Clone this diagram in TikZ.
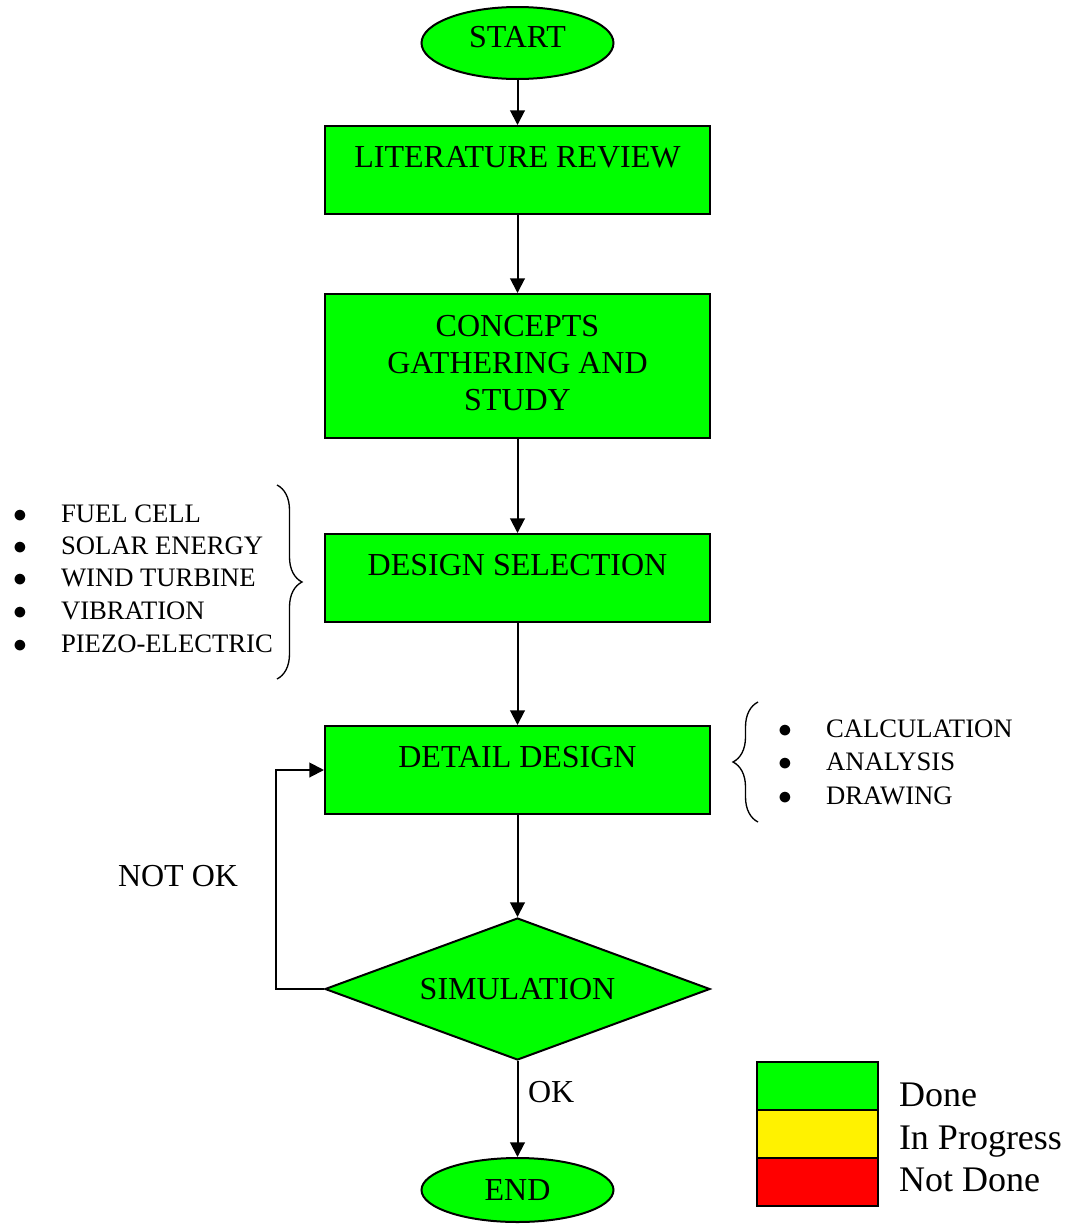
\documentclass[tikz,border=0pt]{standalone}
\usepackage{fontspec}
\setmainfont{Liberation Serif}
\usepackage{tikz}
\usetikzlibrary{shapes,arrows.meta,decorations.pathreplacing}

\begin{document}
\begin{tikzpicture}[x=0.75pt, y=-0.75pt, line width=1.5pt, >={Triangle[length=11pt,width=11pt]},
box/.style={rectangle, draw, fill=green, minimum width=288.75pt, minimum height=66pt, inner sep=0pt, font=\fontsize{24}{27.75}\selectfont},
main node/.style={box, text height=16pt, text depth=20.5pt},
end node/.style={ellipse, draw, fill=green, minimum width=144pt, minimum height=54pt, inner sep=0pt, font=\fontsize{24}{28}\selectfont},
decision/.style={diamond, aspect=2.7, draw, fill=green, minimum width=288.75pt, minimum height=106.5pt, inner sep=0pt, font=\fontsize{24}{28}\selectfont},
item/.style={anchor=base west, inner sep=0pt, font=\fontsize{20}{24}\selectfont},
key/.style={rectangle, draw, line width=1.1pt, minimum width=90.75pt, minimum height=36pt, inner sep=0pt},
key text/.style={anchor=base west, inner sep=0pt, font=\fontsize{27}{32}\selectfont},
curly/.style={decorate, line width=1pt, decoration={brace, amplitude=18.75pt}}]
\useasboundingbox (0,0) rectangle (1077,1225);
\node[end node, text height=16pt, text depth=9pt] (1) at (517.5,43) {START};
\node[main node] (2) at (517.5,170) {LITERATURE REVIEW};
\node[box, minimum height=108pt] (3) at (517.5,366) {\begin{tabular}{@{}c@{}}CONCEPTS\\GATHERING AND\\STUDY\end{tabular}};
\node[main node] (4) at (517.5,578) {DESIGN SELECTION};
\node[main node] (5) at (517.5,770) {DETAIL DESIGN};
\node[decision] (6) at (517.5,989) {SIMULATION};
\node[end node, minimum height=48pt] (7) at (517.5,1190) {END};
\node[item] (a1) at (12,522.5) {\makebox[36pt][l]{$\bullet$}FUEL CELL};
\node[item] (a2) at (12,554.5) {\makebox[36pt][l]{$\bullet$}SOLAR ENERGY};
\node[item] (a3) at (12,586.5) {\makebox[36pt][l]{$\bullet$}WIND TURBINE};
\node[item] (a4) at (12,619) {\makebox[36pt][l]{$\bullet$}VIBRATION};
\node[item] (a5) at (12,652.5) {\makebox[36pt][l]{$\bullet$}PIEZO-ELECTRIC};
\node[item] (b1) at (777,737) {\makebox[36pt][l]{$\bullet$}CALCULATION};
\node[item] (b2) at (777,770.5) {\makebox[36pt][l]{$\bullet$}ANALYSIS};
\node[item] (b3) at (777,804) {\makebox[36pt][l]{$\bullet$}DRAWING};
\draw[curly] (277,485) -- (277,679);
\draw[curly] (758,822) -- (758,702);
\node[font=\fontsize{24}{28}\selectfont] (nok) at (178,876) {NOT OK};
\node[font=\fontsize{24}{28}\selectfont, anchor=west, inner sep=0pt] (ok) at (527,1092) {OK};
\node[key, fill=green] (k1) at (817.5,1086) {};
\node[key, fill=yellow] (k2) at (817.5,1134) {};
\node[key, fill=red] (k3) at (817.5,1182) {};
\node[key text] (t1) at (898,1106) {Done};
\node[key text] (t2) at (898,1149) {In Progress};
\node[key text] (t3) at (898,1191) {Not Done};
\path[->]
(1) edge (2)
(2) edge (3)
(3) edge (4)
(4) edge (5)
(5) edge (6)
(6) edge (7);
\draw[->] (6.west) -- ++(-48,0) |- (5.west);
\end{tikzpicture}
\end{document}
